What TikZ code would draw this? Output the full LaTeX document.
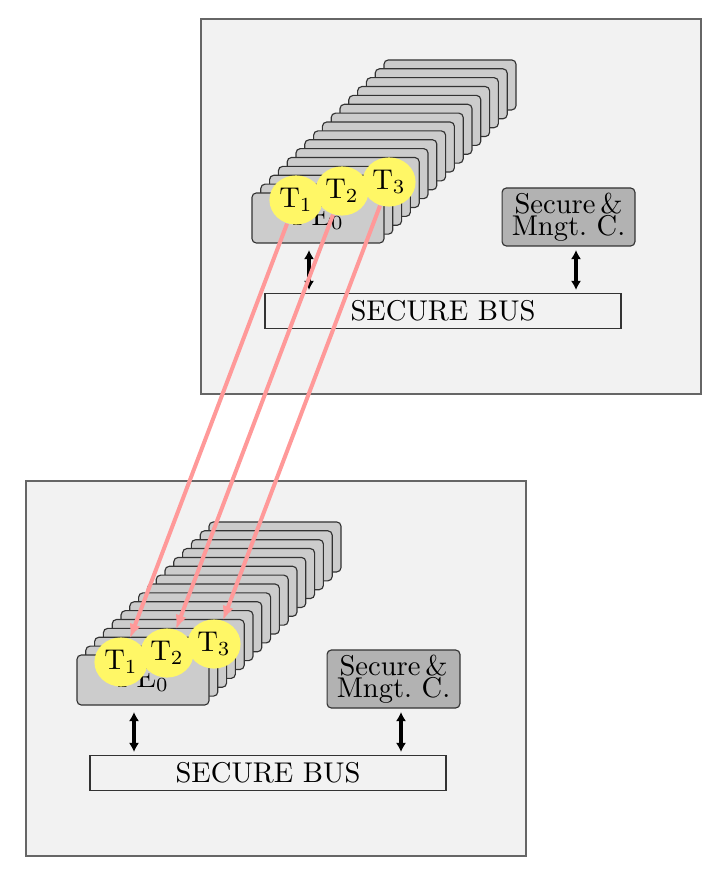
\documentclass[tikz,border=0pt]{standalone}
\usetikzlibrary{arrows.meta,shapes.geometric}
\begin{document}
\begin{tikzpicture}[x=0.35pt,y=-0.35pt,
  outerbox/.style={draw=black!60,line width=0.6pt,fill=black!5},
  pebox/.style={draw=black!80,line width=0.4pt,fill=black!20,rounded corners=1.5pt,
    minimum width=46.2pt,minimum height=17.5pt,inner sep=0pt},
  secbox/.style={draw=black!80,line width=0.4pt,fill=black!30,rounded corners=1.5pt,
    minimum width=46.5pt,minimum height=20.3pt,inner sep=0pt,align=center},
  busbox/.style={draw=black!80,line width=0.4pt,minimum width=124.6pt,minimum height=12.3pt,inner sep=0pt},
  tell/.style={ellipse,fill=yellow!60,minimum width=18.6pt,minimum height=17.2pt,inner sep=0pt},
  busarrow/.style={{Latex[length=3.2pt,width=3.6pt]}-{Latex[length=3.2pt,width=3.6pt]},line width=1.2pt},
  migrate/.style={-{Latex[length=5pt,width=4pt]},draw=red!40,line width=1.4pt}]
\useasboundingbox (0,0) rectangle (720,880);
\foreach \p/\dx/\dy in {a/0/0,b/-175/462}{
  \begin{scope}[shift={(\dx,\dy)}]
    \node[outerbox,minimum width=175pt,minimum height=131.25pt,inner sep=0pt] (\p-outer) at (451,206.5) {};
    \foreach \i in {15,14,...,1}{
      \node[pebox] (\p-pe\i) at ({318+8.8*\i},{218-8.87*\i}) {};
    }
    \node[pebox] (\p-pe0) at (318,218) {PE$_0$};
    \node[tell] (\p-T1) at (296,200) {T$_1$};
    \node[tell] (\p-T2) at (342,191) {T$_2$};
    \node[tell] (\p-T3) at (389,182) {T$_3$};
    \node[secbox] (\p-sec) at (568.5,217) {Secure\,\&\\[-4.3pt]Mngt.\ C.};
    \node[busbox] (\p-bus) at (443,311) {SECURE BUS};
    \coordinate (\p-l1) at (309,250);
    \coordinate (\p-l2) at (309,290);
    \coordinate (\p-r1) at (576,250);
    \coordinate (\p-r2) at (576,290);
    \draw[busarrow] (\p-l1) -- (\p-l2);
    \draw[busarrow] (\p-r1) -- (\p-r2);
  \end{scope}
}
\draw[migrate] (a-T1) -- (b-T1);
\draw[migrate] (a-T2) -- (b-T2);
\draw[migrate] (a-T3) -- (b-T3);
\end{tikzpicture}
\end{document}
